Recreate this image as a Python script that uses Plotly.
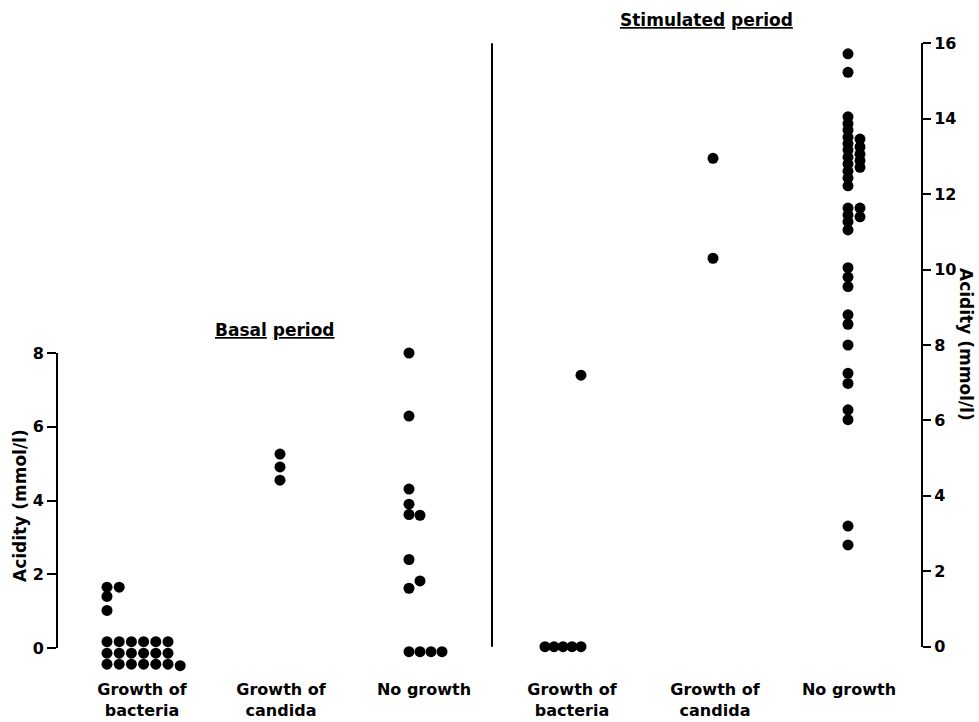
import plotly.graph_objects as go

# ---- categories / labels ----
categories = ["Growth of<br>bacteria", "Growth of<br>candida", "No growth",
              "Growth of<br>bacteria", "Growth of<br>candida", "No growth"]
periods = ["Basal period", "Stimulated period"]
left_ticks = [0, 2, 4, 6, 8]
right_ticks = [0, 2, 4, 6, 8, 10, 12, 14, 16]

# ---- values (acidity, mmol/l) and dot-column index within each group ----
basal_bacteria = [1.65, 1.65, 1.40, 1.02,
                  0.17, 0.17, 0.17, 0.17, 0.17, 0.17,
                  -0.14, -0.14, -0.14, -0.14, -0.14, -0.14,
                  -0.44, -0.44, -0.44, -0.44, -0.44, -0.44, -0.48]
basal_bacteria_col = [0, 1, 0, 0,
                      0, 1, 2, 3, 4, 5,
                      0, 1, 2, 3, 4, 5,
                      0, 1, 2, 3, 4, 5, 6]
basal_candida = [5.26, 4.91, 4.55]
basal_candida_col = [0, 0, 0]
basal_none = [8.0, 6.29, 4.31, 3.9, 3.62, 3.6, 2.4, 1.82, 1.62, -0.1, -0.1, -0.1, -0.1]
basal_none_col = [0, 0, 0, 0, 0, 1, 0, 1, 0, 0, 1, 2, 3]

stim_bacteria = [7.2, 0, 0, 0, 0, 0]
stim_bacteria_col = [4, 0, 1, 2, 3, 4]
stim_candida = [12.95, 10.3]
stim_candida_col = [0, 0]
stim_none = [15.72, 15.23, 14.05, 13.87, 13.70, 13.51, 13.34, 13.17, 12.98, 12.80,
             12.61, 12.43, 12.22, 11.63, 11.45, 11.27, 11.05, 10.05, 9.8, 9.55,
             8.8, 8.55, 8.0, 7.25, 6.98, 6.28, 6.02, 3.2, 2.7,
             13.46, 13.25, 13.06, 12.89, 12.71, 11.63, 11.40]
stim_none_col = [0] * 29 + [1] * 7

# ---- layout helpers (positions / sizes) ----
label_pos = [142, 281, 424, 572, 715, 849]
group_start = [107, 280, 409, 545, 713, 848]
group_step = [12.2, 0, 11, 9, 0, 12]
FONT = "DejaVu Sans"
LEFT_MIN = -0.55          # room below zero for the stacked zero values
PX_PER_UNIT_L = (648 - 353) / 8

groups = [
    (basal_bacteria, basal_bacteria_col, "x", "y"),
    (basal_candida, basal_candida_col, "x", "y"),
    (basal_none, basal_none_col, "x", "y"),
    (stim_bacteria, stim_bacteria_col, "x2", "y2"),
    (stim_candida, stim_candida_col, "x2", "y2"),
    (stim_none, stim_none_col, "x2", "y2"),
]

fig = go.Figure()
for i, (vals, cols, xax, yax) in enumerate(groups):
    xs = [group_start[i] + c * group_step[i] for c in cols]
    fig.add_trace(go.Scatter(
        x=xs, y=vals, mode="markers", xaxis=xax, yaxis=yax,
        marker=dict(color="black", size=11, line=dict(width=0)),
        cliponaxis=False, showlegend=False, hoverinfo="y"))

# divider between periods
fig.add_shape(type="line", xref="x2", yref="y2", x0=492, x1=492, y0=-0.08, y1=16.05,
              line=dict(color="black", width=2))
# left axis line spans only 0..8
fig.add_shape(type="line", xref="paper", yref="y", x0=0, x1=0, y0=0, y1=8,
              line=dict(color="black", width=2))

H_TOP, H_BOT = 30, 672
PH = H_BOT - H_TOP


def py_to_paper(py):
    return (H_BOT - py) / PH


def dom(py):
    return max(0.0, min(1.0, py_to_paper(py)))


def px_to_paper(px):
    return (px - 57) / (921 - 57)


tick_style = dict(showgrid=False, zeroline=False, ticks="outside", tickwidth=2,
                  tickcolor="black", automargin=False,
                  tickfont=dict(family=FONT, size=16, color="black", weight="bold"))

fig.update_layout(
    width=979, height=722,
    margin=dict(l=57, r=58, t=H_TOP, b=722 - H_BOT, autoexpand=False),
    paper_bgcolor="white", plot_bgcolor="rgba(0,0,0,0)",
    xaxis=dict(range=[57, 921], domain=[0, 1], showgrid=False, zeroline=False, showline=False,
               tickmode="array", tickvals=label_pos, ticktext=categories, ticks="",
               tickfont=dict(family=FONT, size=16, color="black", weight="bold"),
               anchor="y", ticklabelstandoff=10, automargin=False),
    xaxis2=dict(range=[57, 921], domain=[0, 1], visible=False, anchor="y2"),
    yaxis=dict(range=[LEFT_MIN, 8],
               domain=[dom(648 - LEFT_MIN * PX_PER_UNIT_L), dom(353)],
               tickvals=left_ticks, showline=False, ticklen=9,
               anchor="x", side="left", **tick_style),
    yaxis2=dict(range=[0, 16], domain=[dom(646.7), dom(43.3)],
                tickvals=right_ticks, showline=True, linecolor="black", linewidth=2, ticklen=8,
                anchor="x2", side="right", **tick_style),
    annotations=[
        dict(text="<u>Basal</u> <u>period</u>", x=275, xref="x", y=py_to_paper(330), yref="paper",
             showarrow=False, font=dict(family=FONT, size=17, color="black", weight="bold"),
             xanchor="center", yanchor="middle"),
        dict(text="<u>Stimulated</u> <u>period</u>", x=706, xref="x", y=py_to_paper(20), yref="paper",
             showarrow=False, font=dict(family=FONT, size=17, color="black", weight="bold"),
             xanchor="center", yanchor="middle"),
        dict(text="Acidity (mmol/l)", xref="paper", yref="paper",
             x=px_to_paper(20), y=py_to_paper(506), xanchor="center", yanchor="middle",
             showarrow=False, textangle=-90,
             font=dict(family=FONT, size=17, color="black", weight="bold")),
        dict(text="Acidity (mmol/l)", xref="paper", yref="paper",
             x=px_to_paper(966), y=py_to_paper(345), xanchor="center", yanchor="middle",
             showarrow=False, textangle=90,
             font=dict(family=FONT, size=17, color="black", weight="bold")),
    ],
)

fig.write_html("out.html", config={"displayModeBar": False},
               post_script="document.body.style.margin='0px';")
